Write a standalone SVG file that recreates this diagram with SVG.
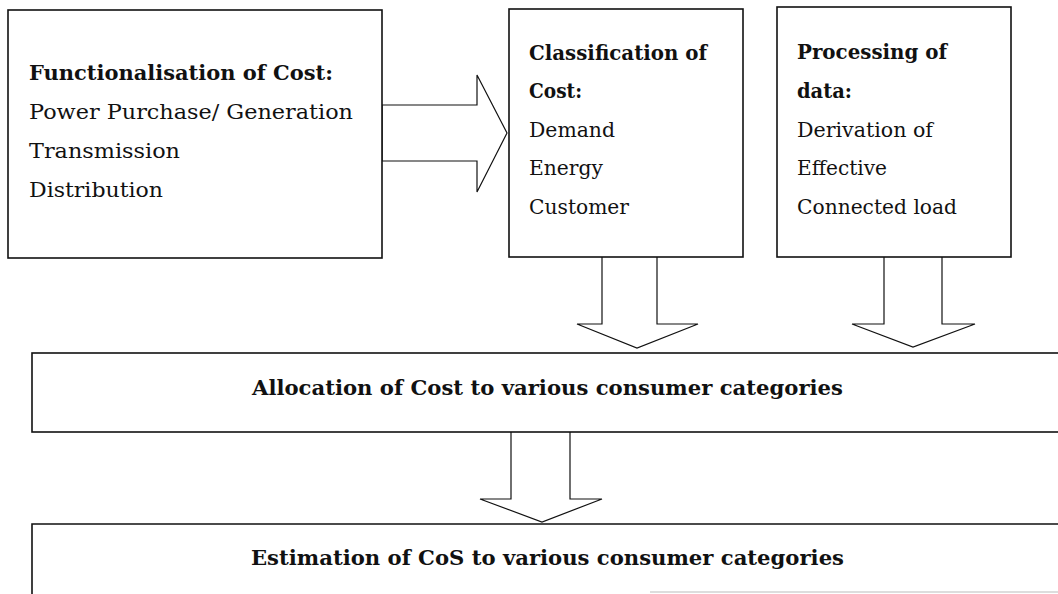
<svg xmlns="http://www.w3.org/2000/svg" width="1058" height="594" viewBox="0 0 1058 594">
<style>
.box{fill:#fff;stroke:#111;stroke-width:1.6}
.arr{fill:#fff;stroke:#111;stroke-width:1.2;stroke-linejoin:miter}
text{font-family:"DejaVu Serif","Liberation Serif",serif;font-size:20px;fill:#111}
.b{font-weight:bold}
</style>
<rect width="1058" height="594" fill="#fff"/>
<g id="connectors">
<polygon class="arr" points="382,105 477,105 477,75 507,133 477,192 477,161 382,161"/>
<polyline class="arr" points="602,257 602,324 577,324 637,348 698,324 657,324 657,257"/>
<polyline class="arr" points="884,257 884,324 852,324 913,347 975,324 942,324 942,257"/>
<polyline class="arr" points="511,432 511,499 480,499 542,522 602,499 570,499 570,432"/>
</g>
<g id="node-functionalisation">
<rect class="box" x="8" y="10" width="374" height="248"/>
<text class="b" x="29" y="80" textLength="304" lengthAdjust="spacingAndGlyphs">Functionalisation of Cost:</text>
<text x="29" y="119" textLength="324" lengthAdjust="spacingAndGlyphs">Power Purchase/ Generation</text>
<text x="29" y="158" textLength="151" lengthAdjust="spacingAndGlyphs">Transmission</text>
<text x="29" y="197" textLength="134" lengthAdjust="spacingAndGlyphs">Distribution</text>
</g>
<g id="node-classification">
<rect class="box" x="509" y="9" width="234" height="248"/>
<text class="b" x="529" y="60" textLength="178" lengthAdjust="spacingAndGlyphs">Classification of</text>
<text class="b" x="529" y="98" textLength="53" lengthAdjust="spacingAndGlyphs">Cost:</text>
<text x="529" y="137" textLength="86" lengthAdjust="spacingAndGlyphs">Demand</text>
<text x="529" y="175" textLength="74" lengthAdjust="spacingAndGlyphs">Energy</text>
<text x="529" y="214" textLength="100" lengthAdjust="spacingAndGlyphs">Customer</text>
</g>
<g id="node-processing">
<rect class="box" x="777" y="7" width="234" height="250"/>
<text class="b" x="797" y="59" textLength="150" lengthAdjust="spacingAndGlyphs">Processing of</text>
<text class="b" x="797" y="98" textLength="55" lengthAdjust="spacingAndGlyphs">data:</text>
<text x="797" y="137" textLength="136" lengthAdjust="spacingAndGlyphs">Derivation of</text>
<text x="797" y="175" textLength="90" lengthAdjust="spacingAndGlyphs">Effective</text>
<text x="797" y="214" textLength="160" lengthAdjust="spacingAndGlyphs">Connected load</text>
</g>
<g id="node-allocation">
<rect class="box" x="32" y="353" width="1040" height="79"/>
<text class="b" x="252" y="395" textLength="591" lengthAdjust="spacingAndGlyphs">Allocation of Cost to various consumer categories</text>
</g>
<g id="node-estimation">
<path class="box" d="M1062,524 H32 V600" fill="none"/>
<line x1="650" y1="592" x2="1058" y2="592" stroke="#bbb" stroke-width="1"/>
<text class="b" x="251" y="565" textLength="593" lengthAdjust="spacingAndGlyphs">Estimation of CoS to various consumer categories</text>
</g>
</svg>
